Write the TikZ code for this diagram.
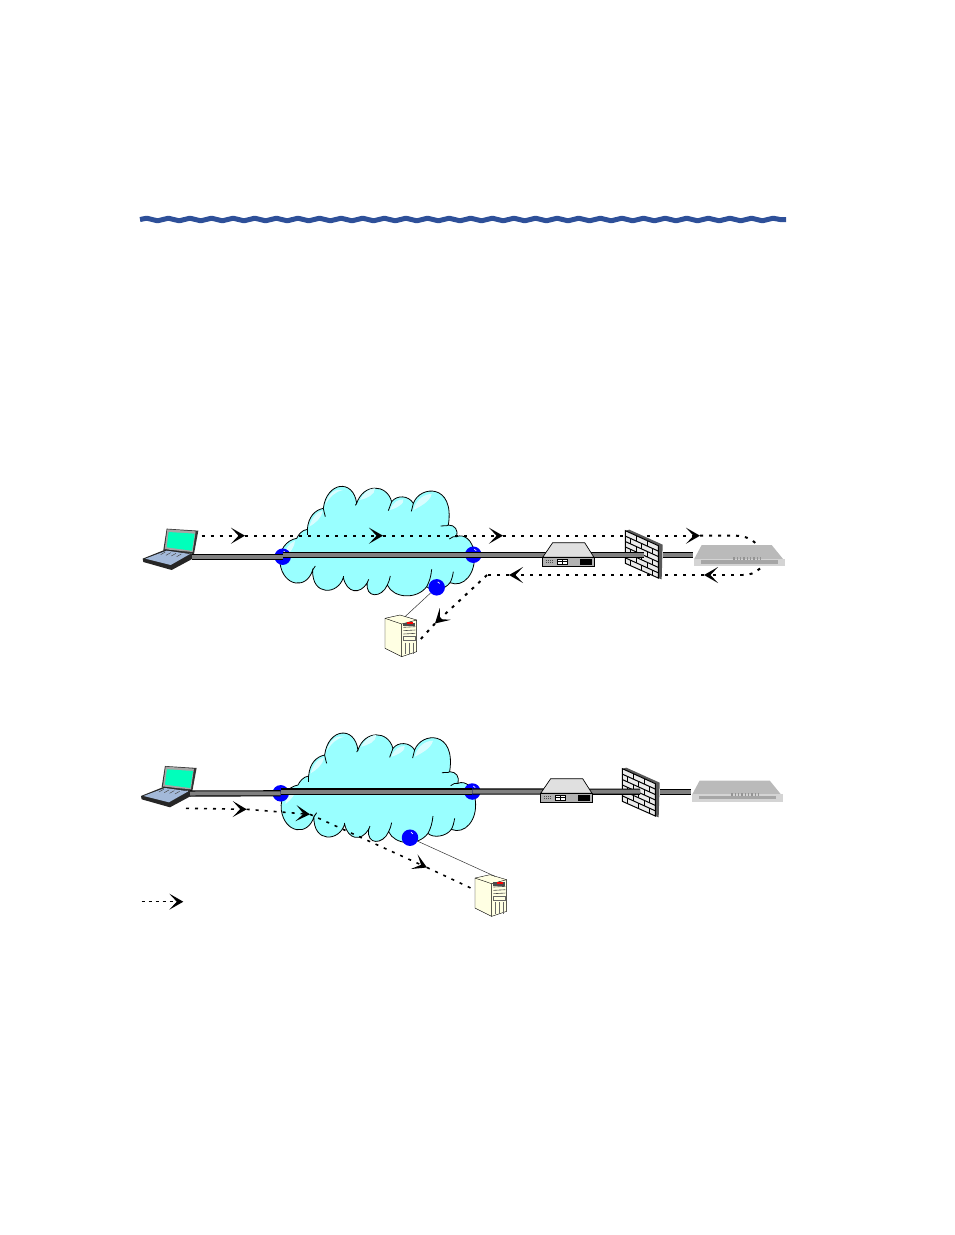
\documentclass[tikz,border=0pt]{standalone}
\usepackage{tikz}
\usetikzlibrary{arrows.meta,positioning,calc,decorations.pathmorphing}
\definecolor{cloudblue}{HTML}{99FFFF}
\definecolor{cloudlight}{HTML}{D9FDFF}
\definecolor{rulerblue}{HTML}{2E5099}
\definecolor{screengreen}{HTML}{00FFBB}
\definecolor{keyblue}{HTML}{A3B9D9}
\definecolor{towercream}{HTML}{FFFFE3}
\tikzset{
  chevron/.tip={Stealth[length=14pt,width=16pt,inset=7.5pt]},
  cable/.style={line width=1.1pt,double=gray,double distance=4pt},
  flow/.style={line width=2pt,dash pattern=on 3pt off 6pt,-chevron},
  flowtail/.style={line width=2pt,dash pattern=on 3pt off 6pt},
  flowthin/.style={line width=1.6pt,dash pattern=on 3pt off 6pt,-chevron},
  pin/.style={circle,inner sep=0pt,minimum size=16.5pt,fill=blue,
    path picture={\draw[white,line width=0.7pt] ([xshift=1pt,yshift=5.5pt]path picture bounding box.center) arc (80:20:2.5pt);}},
  lead/.style={line width=0.5pt,black!80},
  laptop/.pic={
    \fill[black!80] (110,176) -- (205,182) -- (192,252) -- (100,240) -- cycle;
    \fill[black!35] (112,178) -- (197,184) -- (188,246) -- (104,238) -- cycle;
    \fill[screengreen] (116,186) -- (194,191) -- (186,242) -- (110,232) -- cycle;
    \fill[black!85] (38,266) -- (108,238) -- (190,252) -- (190,265) -- (125,300) -- (40,276) -- cycle;
    \fill[keyblue] (46,266) -- (110,242) -- (180,252) -- (122,285) -- cycle;
    \foreach \kx in {0,1,2,3}
      \draw[black!70,line width=0.5pt] (106+16*\kx,246+2*\kx) -- (92+16*\kx,254+2*\kx);
  },
  lobe/.style={fill=cloudlight},
  cloudshape/.pic={
    \draw[fill=cloudblue,line width=0.8pt] (580,115)
      .. controls (590,35) and (670,25) .. (680,100)
      .. controls (700,40) and (770,40) .. (785,95)
      .. controls (800,75) and (835,75) .. (850,100)
      .. controls (870,45) and (975,40) .. (955,165)
      .. controls (975,165) and (985,180) .. (980,200)
      .. controls (1000,190) and (1030,210) .. (1032,250)
      .. controls (1040,310) and (1000,355) .. (960,338)
      .. controls (945,360) and (905,365) .. (890,350)
      .. controls (860,390) and (790,385) .. (772,345)
      .. controls (755,385) and (705,385) .. (712,338)
      .. controls (690,375) and (650,370) .. (640,322)
      .. controls (625,375) and (545,380) .. (548,300)
      .. controls (530,360) and (460,350) .. (450,280)
      .. controls (445,240) and (470,210) .. (500,205)
      .. controls (505,195) and (515,180) .. (532,178)
      .. controls (535,140) and (555,120) .. (580,115);
    \fill[lobe] (585,105) .. controls (595,65) and (620,55) .. (640,60) .. controls (615,65) and (600,80) .. cycle;
    \fill[lobe] (690,90) .. controls (705,60) and (725,55) .. (735,55) .. controls (735,75) and (710,85) .. cycle;
    \fill[lobe] (780,120) .. controls (790,95) and (805,88) .. (820,88) .. controls (825,100) and (800,115) .. cycle;
    \fill[lobe] (850,120) .. controls (860,85) and (885,72) .. (905,72) .. controls (900,95) and (870,110) .. cycle;
    \fill[lobe] (538,170) .. controls (545,145) and (560,125) .. (578,122) .. controls (575,145) and (555,160) .. cycle;
    \fill[lobe] (462,262) .. controls (465,235) and (478,220) .. (495,212) .. controls (495,230) and (480,250) .. cycle;
    \draw[line width=0.8pt] (580,115) .. controls (583,130) and (585,135) .. (586,140);
    \draw[line width=0.8pt] (680,100) -- (676,106);
    \draw[line width=0.8pt] (785,95) -- (775,122);
    \draw[line width=0.8pt] (850,100) -- (844,124);
    \draw[line width=0.8pt] (955,165) .. controls (950,170) and (940,165) .. (932,168);
    \draw[line width=0.8pt] (980,200) .. controls (975,198) and (965,200) .. (958,207);
    \draw[line width=0.8pt] (532,178) -- (532,196);
    \draw[line width=0.8pt] (960,338) .. controls (965,330) and (968,318) .. (970,305);
    \draw[line width=0.8pt] (890,350) .. controls (898,335) and (903,320) .. (905,298);
    \draw[line width=0.8pt] (772,345) .. controls (776,335) and (780,328) .. (781,318);
    \draw[line width=0.8pt] (712,338) -- (716,328);
    \draw[line width=0.8pt] (640,322) -- (640,318);
    \draw[line width=0.8pt] (548,300) -- (556,288);
  },
  tower/.pic={
    \draw[fill=towercream,line width=0.4pt] (765,445) -- (810,435) -- (860,450) -- (860,545) -- (815,560) -- (765,535) -- cycle;
    \draw[line width=0.4pt] (765,445) -- (815,462) -- (860,450) (815,462) -- (815,560);
    \fill[black!70] (820,458) rectangle (856,468);
    \fill[red] (832,456) rectangle (848,462);
    \foreach \ty in {472,482,492}
      \draw[black!70,line width=0.6pt] (820,\ty) -- (856,\ty-2);
    \draw[black!60,line width=0.4pt] (820,500) rectangle (856,512);
    \foreach \tx in {826,838,850}
      \draw[black!60,line width=0.6pt] (\tx,518) -- (\tx,552);
    \coordinate (-lead) at (825,440);
    \coordinate (-flow) at (865,515);
  },
  routerbox/.pic={
    \draw[fill=black!12,line width=0.7pt] (248,98) -- (344,98) -- (372,142) -- (218,142) -- cycle;
    \draw[fill=black!30,line width=0.8pt] (218,142) rectangle (374,170);
    \fill[black] (330,147) rectangle (366,164);
    \draw[fill=white,line width=0.7pt] (262,147) rectangle (293,164);
    \draw[line width=1pt] (262,155.5) -- (293,155.5) (277,147) -- (277,164);
    \foreach \dx in {228,234,240,246} {
      \fill[black!70] (\dx,150) rectangle +(3,3);
      \fill[black!70] (\dx,157) rectangle +(3,3);
    }
  },
  brickwall/.pic={
    \fill[black!65] (466,62) -- (478,59) -- (578,104) -- (575,208) -- (564,204) -- (566,106) -- cycle;
    \draw[fill=black!8,line width=1pt] (466,62) -- (565,107) -- (565,204) -- (466,160) -- cycle;
    \foreach \row in {1,...,5}
      \draw[line width=1pt] (466,62+16.3*\row) -- (565,107+16.3*\row);
    \foreach \row in {0,2,4}
      \foreach \bx in {498,532}
        \draw[line width=1pt] (\bx,62+16.3*\row+0.455*\bx-212) -- (\bx,62+16.3*\row+0.455*\bx-195.7);
    \foreach \row in {1,3,5}
      \foreach \bx in {482,515,548}
        \draw[line width=1pt] (\bx,62+16.3*\row+0.455*\bx-212) -- (\bx,62+16.3*\row+0.455*\bx-195.7);
  },
  greybox/.pic={
    \fill[black!27] (695,105) -- (905,105) -- (940,148) -- (672,148) -- cycle;
    \fill[black!17] (672,146) rectangle (945,168);
    \fill[black!35] (692,150) rectangle (925,161);
    \foreach \gx in {790,800,...,870}
      \fill[black!42] (\gx,141) rectangle +(4,9);
  },
}
\begin{document}
\begin{tikzpicture}[x=1pt,y=-1pt]
    \useasboundingbox (0,0) rectangle (954,1235);
    % top rule
    \coordinate (ruleL) at (140,219.5);
    \coordinate (ruleR) at (786,219.5);
    \draw[rulerblue,line width=5pt,line join=round,decorate,decoration={snake,segment length=21.6pt,amplitude=1.3pt}] (ruleL) -- (ruleR);

    % first picture
    \pic at (130,470) [scale=1/3] {cloudshape};
    \coordinate (a0) at (201.7,535.7);
    \coordinate (a1) at (245,535.7);
    \coordinate (a2) at (383,535.7);
    \coordinate (a3) at (503,535.7);
    \coordinate (a4) at (700,535.7);
    \coordinate (a5) at (736,535.7);
    \coordinate (a6) at (757,544.5);
    \coordinate (b0) at (760,568.5);
    \coordinate (b1) at (743,575);
    \coordinate (b2) at (704,575);
    \coordinate (b3) at (509,575);
    \coordinate (b4) at (487,575);
    \coordinate (b5) at (435,623.5);
    \draw[flow] (a0) -- (a1);
    \draw[flow] (a1) -- (a2);
    \draw[flow] (a2) -- (a3);
    \draw[flow] (a3) -- (a4);
    \draw[flowtail] (a4) -- (a5) .. controls (745,536) and (752,539) .. (a6);
    \draw[flowtail] (b0) .. controls (755,573) and (750,575) .. (b1);
    \draw[flow] (b1) -- (b2);
    \draw[flow] (b2) -- (b3);
    \draw[flow] (b4) -- (b5);
    \draw[flowtail] (b3) -- (b4);
    \pic (srvA) at (130,470) [scale=1/3] {tower};
    \draw[flowtail] (b5) -- (srvA-flow);
    \pic at (130,470) [scale=1/3] {laptop};
    \pic at (470,510) [scale=1/3] {greybox};
    \node [pin] (p1) at (282.7,556.7) {};
    \node [pin] (p2) at (473.3,554.7) {};
    \node [pin] (p3) at (436.7,587.3) {};
    \coordinate (lapA) at (192,556.7);
    \coordinate (wallA) at (644,554.7);
    \coordinate (wallB) at (663,554.7);
    \coordinate (boxA) at (693,554.7);
    \draw[lead] (p3) -- (srvA-lead);
    \draw[cable] (lapA) -- (p1.center);
    \draw[cable] (p1.center |- p2.center) -- (p2.center);
    \pic at (470,510) [scale=1/3] {brickwall};
    \draw[cable] (p2.center) -- (wallA);
    \draw[cable] (wallB) -- (boxA);
    \pic at (470,510) [scale=1/3] {routerbox};

    % second picture
    \pic at (131.3,716.7) [scale=1/3] {cloudshape};
    \coordinate (c0) at (186,808.3);
    \coordinate (c1) at (246.7,809.3);
    \coordinate (c2) at (310,814.3);
    \coordinate (c3) at (427,867.5);
    \draw[flowthin] (c0) -- (c1);
    \draw[flowthin] (c1) -- (c2);
    \draw[flowthin] (c2) -- (c3);
    \pic (srvB) at (220,729.7) [scale=1/3] {tower};
    \coordinate (c4) at (475,890);
    \draw[flowtail,line width=1.6pt] (c3) -- (c4);
    \pic at (128.3,707.3) [scale=1/3] {laptop};
    \pic at (468,745.5) [scale=1/3] {greybox};
    \node [pin] (q1) at (280.7,793.3) {};
    \node [pin] (q2) at (472.3,791.5) {};
    \node [pin] (q3) at (410,837.7) {};
    \coordinate (lapB) at (190,793.5);
    \coordinate (wallC) at (640,791.7);
    \coordinate (wallD) at (660,791.7);
    \coordinate (boxB) at (691,791.7);
    \draw[lead] (q3) -- (srvB-lead);
    \draw[cable] (lapB) -- (q1.center);
    \draw[cable] (q1.center |- q2.center) -- (q2.center);
    \pic at (467,748) [scale=1/3] {brickwall};
    \draw[cable] (q2.center) -- (wallC);
    \draw[cable] (wallD) -- (boxB);
    \pic at (468,746) [scale=1/3] {routerbox};

    % legend
    \coordinate (keyA) at (141.7,901.7);
    \coordinate (keyB) at (183.3,901.7);
    \draw[line width=0.8pt,dash pattern=on 3pt off 4pt,-chevron] (keyA) -- (keyB);
\end{tikzpicture}
\end{document}
